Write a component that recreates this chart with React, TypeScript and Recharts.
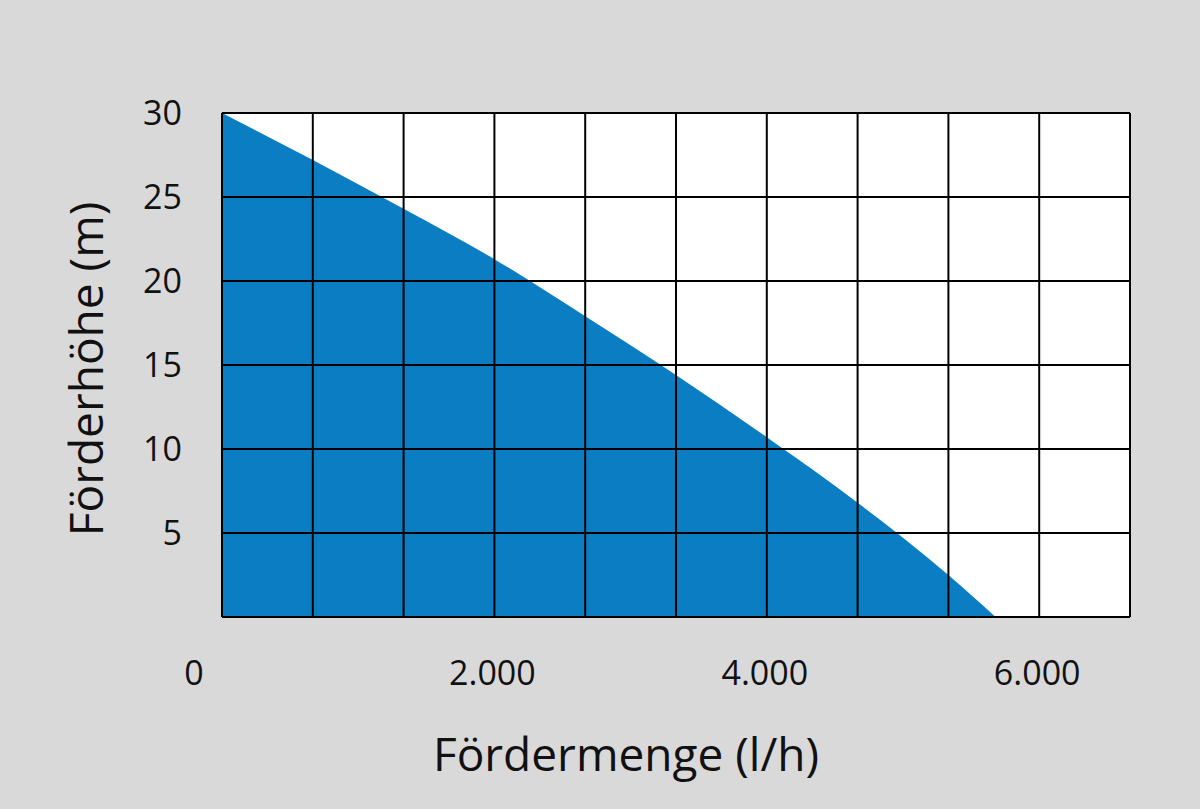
import React from 'react';
import { AreaChart, Area, XAxis, YAxis, CartesianGrid } from 'recharts';

document.body.style.margin = '0';

// Pumpenkennlinie: Fördermenge (l/h) gegen Förderhöhe (m)
const flowRates = [0, 667, 1333, 2000, 2667, 3333, 4000, 4667, 5333, 5680];
const heads = [30, 27.2, 24.3, 21.3, 17.9, 14.4, 10.7, 6.8, 2.5, 0];

// every grid column is 666.67 l/h wide, labels only at 0 / 2000 / 4000 / 6000
const gridTicksX = [0, 666.67, 1333.33, 2000, 2666.67, 3333.33, 4000, 4666.67, 5333.33, 6000, 6666.67];
const labelTicksX = [0, 2000, 4000, 6000];
const ticksY = [0, 5, 10, 15, 20, 25, 30];

const data = flowRates.map((q, i) => ({ q, h: heads[i] }));

const FONT = '"Open Sans", sans-serif';

const formatFlow = (v: number) => (v >= 1000 ? `${v / 1000}.000` : `${v}`);

const FlowTick = (props: any) => {
  const { x, y, payload } = props;
  if (!labelTicksX.includes(payload.value)) return null;
  const shift = payload.value === 0 ? -28 : -2;
  return (
    <text x={x + shift} y={y} dy="0.71em" textAnchor="middle" fontSize={34} fontFamily={FONT} fill="#111">
      {formatFlow(payload.value)}
    </text>
  );
};

const App: React.FC = () => {
  return (
    <div style={{ width: 1200, height: 809, background: '#d9d9d9' }}>
      <AreaChart width={1200} height={809} data={data} margin={{ top: 113, right: 70, bottom: 0, left: 0 }}>
        <XAxis
          dataKey="q"
          type="number"
          domain={[0, 20000 / 3]}
          ticks={gridTicksX}
          interval={0}
          tick={<FlowTick />}
          axisLine={false}
          tickLine={false}
          tickSize={0}
          tickMargin={44}
          height={192}
          allowDataOverflow
          label={{ value: 'Fördermenge (l/h)', position: 'insideBottom', offset: 38, dx: -50, fontSize: 46, fontFamily: FONT, fill: '#111' }}
        />
        <YAxis
          type="number"
          domain={[0, 30]}
          ticks={ticksY}
          interval={0}
          width={222}
          axisLine={false}
          tickLine={false}
          tickSize={0}
          tickMargin={40}
          tickFormatter={(v: number) => (v === 0 ? '' : `${v}`)}
          tick={{ fontSize: 34, fontFamily: FONT, fill: '#111' }}
          label={{ value: 'Förderhöhe (m)', angle: -90, position: 'insideLeft', offset: 87, dy: 4, fontSize: 46, fontFamily: FONT, fill: '#111', style: { textAnchor: 'middle' } }}
        />
        <CartesianGrid fill="#ffffff" stroke="none" />
        <Area
          type="monotone"
          dataKey="h"
          stroke="none"
          fill="#0b7ec3"
          fillOpacity={1}
          isAnimationActive={false}
        />
        <CartesianGrid stroke="#000" strokeWidth={2} zIndex={1000} />
      </AreaChart>
    </div>
  );
};

export default App;
